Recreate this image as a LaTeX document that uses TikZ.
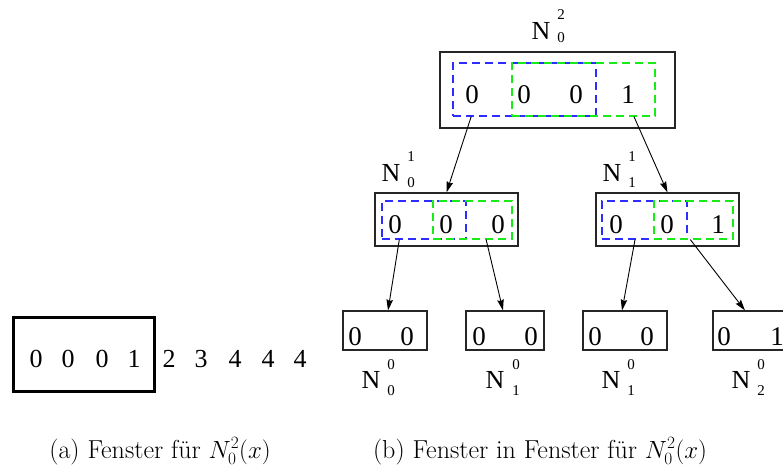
\documentclass[tikz,border=0pt]{standalone}
\usepackage{fontspec}
\newfontfamily\tms{Liberation Serif}
\usetikzlibrary{calc,arrows.meta}
\definecolor{wblue}{RGB}{45,45,255}
\definecolor{wgreen}{RGB}{25,235,25}
\begin{document}
\begin{tikzpicture}[x=1pt,y=-1pt,
  box/.style={draw=black!85,line width=1.1pt,inner sep=0pt,minimum height=#1},
  box/.default=39pt,
  bluebox/.style={draw=wblue,line width=1.1pt,dash pattern=on 8pt off 5pt,inner sep=0pt},
  greenbox/.style={draw=wgreen,line width=1.1pt,dash pattern=on 8pt off 5pt,inner sep=0pt},
  dig/.style={font=\tms\fontsize{27}{32}\selectfont,inner sep=0pt},
  ldig/.style={font=\tms\fontsize{26}{31}\selectfont,inner sep=0pt},
  nlab/.style={font=\tms\fontsize{26}{31}\selectfont,inner sep=0pt},
  idx/.style={font=\tms\fontsize{15}{18}\selectfont,inner sep=0pt},
  captext/.style={font=\fontsize{26}{31}\selectfont,inner sep=0pt,anchor=base},
  conn/.style={line width=0.9pt,-{Stealth[length=11pt,width=6.5pt,inset=1.5pt]}}]
\useasboundingbox (0,0) rectangle (783,469);

% ---- (a) ----
\node[box=74pt,minimum width=141pt,line width=3pt,draw=black] (win) at (83.5,354) {};
\foreach \x/\d [count=\i] in {36/0,68/0,102/0,134/1,169/2,201/3,235/4,268/4,300/4}
  \node[ldig] (a\i) at (\x,359) {\d};
\node[captext] (capa) at (160,458) {(a) Fenster f\"ur $N_0^2(x)$};

% ---- (b) top ----
\node[box=76pt,minimum width=235pt] (tb) at (557.5,90) {};
\node[bluebox,minimum width=143pt,minimum height=53pt] (tbb) at (524.5,89.5) {};
\node[greenbox,minimum width=143pt,minimum height=53pt] (tbg) at (583.5,89.5) {};
\foreach \x/\d [count=\i] in {472/0,524/0,576/0,628/1}
  \node[dig] (t\i) at (\x,95) {\d};
\node[nlab] (tN) at (541,30.5) {N};
\node[idx] (tNu) at (561,15) {2};
\node[idx] (tNl) at (561,38) {0};

% ---- (b) middle left ----
\node[box=53pt,minimum width=143pt] (ml) at (446.5,219.5) {};
\node[bluebox,minimum width=84pt,minimum height=38pt] (mlb) at (424,220) {};
\node[greenbox,minimum width=79pt,minimum height=38pt] (mlg) at (472.5,220) {};
\foreach \x/\d [count=\i] in {395/0,446/0,498/0}
  \node[dig] (ml\i) at (\x,224.5) {\d};
\node[nlab] (mlN) at (391,173) {N};
\node[idx] (mlNu) at (411,157) {1};
\node[idx] (mlNl) at (411,182.5) {0};

% ---- (b) middle right ----
\node[box=53pt,minimum width=143pt] (mr) at (667.5,219.5) {};
\node[bluebox,minimum width=85pt,minimum height=38pt] (mrb) at (644.5,220) {};
\node[greenbox,minimum width=79pt,minimum height=38pt] (mrg) at (693.5,220) {};
\foreach \x/\d [count=\i] in {616/0,667/0,718/1}
  \node[dig] (mr\i) at (\x,224.5) {\d};
\node[nlab] (mrN) at (612,173) {N};
\node[idx] (mrNu) at (632,157) {1};
\node[idx] (mrNl) at (632,182.5) {1};

% ---- (b) bottom ----
\node[box,minimum width=84pt] (b1) at (385,330.5) {};
\node[box,minimum width=78pt] (b2) at (505,330.5) {};
\node[box,minimum width=84pt] (b3) at (625,330.5) {};
\node[box,minimum width=84pt] (b4) at (755,330.5) {};
\foreach \x/\d [count=\i] in {355/0,407/0,479/0,531/0,595/0,647/0,724/0,777/1}
  \node[dig] (bd\i) at (\x,336.5) {\d};
\foreach \n/\x/\s/\l in {1/371/391/0,2/495/516/1,3/611/631/1,4/741/761/2}{
  \node[nlab] (bN\n) at (\x,380) {N};
  \node[idx] (bNu\n) at (\s,365) {0};
  \node[idx] (bNl\n) at (\s,391) {\l};
}
\node[captext] (capb) at (540,458) {(b) Fenster in Fenster f\"ur $N_0^2(x)$};

% ---- connectors ----
\draw[conn] ($(tbb.south west)!0.13!(tbb.south east)$) -- (ml.north);
\draw[conn] ($(tbg.south west)!0.85!(tbg.south east)$) -- (mr.north);
\draw[conn] ($(mlb.south west)!0.21!(mlb.south east)$) -- ($(b1.north)+(3,0)$);
\draw[conn] ($(mlg.south west)!0.67!(mlg.south east)$) -- ($(b2.north)+(-2,0)$);
\draw[conn] ($(mrb.south west)!0.39!(mrb.south east)$) -- ($(b3.north)+(-3,0)$);
\draw[conn] ($(mrg.south west)!0.46!(mrg.south east)$) -- ($(b4.north)+(-10,0)$);
\end{tikzpicture}
\end{document}
